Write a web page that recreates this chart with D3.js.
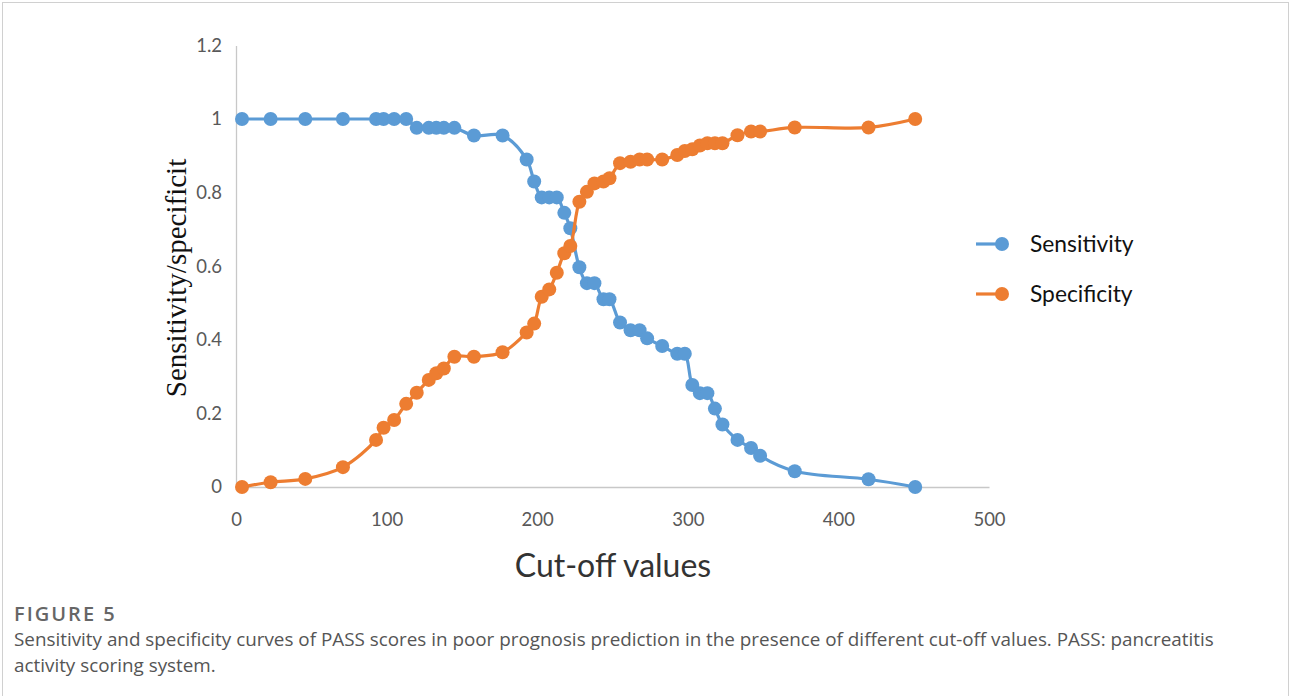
<!DOCTYPE html>
<html>
<head>
<meta charset="utf-8">
<script src="https://cdn.jsdelivr.net/npm/d3@7"></script>
<style>
  body { margin: 0; background: #fff; }
  svg { display: block; }
</style>
</head>
<body>
<div id="chart"></div>
<script>
// cut-off values shared by both curves
var cutoffs = [4, 23, 46, 71, 93, 98, 105, 113, 120, 128, 133, 138, 145, 158, 177,
  193, 198, 203, 208, 213, 218, 222, 228, 233, 238, 244, 248, 255, 262, 268, 273,
  283, 293, 298, 303, 308, 313, 318, 323, 333, 342, 348, 371, 420, 451]

var sensitivity = [1, 1, 1, 1, 1, 1, 1, 1, 0.976, 0.976, 0.976, 0.976, 0.976, 0.955, 0.955,
  0.89, 0.83, 0.787, 0.787, 0.787, 0.745, 0.703, 0.597, 0.554, 0.554, 0.51, 0.51, 0.447,
  0.426, 0.426, 0.404, 0.383, 0.362, 0.362, 0.277, 0.255, 0.255, 0.213, 0.17, 0.128,
  0.106, 0.085, 0.043, 0.021, 0]

var specificity = [0, 0.013, 0.022, 0.054, 0.128, 0.161, 0.182, 0.226, 0.256, 0.291, 0.309,
  0.322, 0.354, 0.354, 0.366, 0.42, 0.444, 0.517, 0.537, 0.582, 0.635, 0.655, 0.775, 0.802,
  0.825, 0.83, 0.839, 0.88, 0.884, 0.89, 0.89, 0.89, 0.902, 0.913, 0.918, 0.928, 0.934,
  0.934, 0.934, 0.956, 0.966, 0.966, 0.977, 0.977, 1]

var seriesNames = ["Sensitivity", "Specificity"]
var seriesColors = ["#5b9bd5", "#ed7d31"]

var xTicks = [0, 100, 200, 300, 400, 500]
var yTicks = [0, 0.2, 0.4, 0.6, 0.8, 1, 1.2]
var yTickLabels = ["0", "0.2", "0.4", "0.6", "0.8", "1", "1.2"]

var W = 1290, H = 696

var svg = d3.select("#chart").append("svg")
  .attr("width", W)
  .attr("height", H)

// figure frame
svg.append("rect")
  .attr("x", 2.5).attr("y", 2.5)
  .attr("width", 1286).attr("height", 710)
  .attr("fill", "none")
  .attr("stroke", "#d0d0d0")

var x = d3.scaleLinear().domain([0, 500]).range([236, 989])
var y = d3.scaleLinear().domain([0, 1.2]).range([487, 45.4])

// axes
svg.append("g")
  .attr("transform", "translate(236,0)")
  .call(d3.axisLeft(y).tickValues(yTicks)
    .tickFormat(function(d, i) { return yTickLabels[i] })
    .tickSize(0).tickPadding(14))
svg.append("g")
  .attr("transform", "translate(0,487)")
  .call(d3.axisBottom(x).tickValues(xTicks)
    .tickFormat(function(d) { return d })
    .tickSize(0).tickPadding(26))

svg.selectAll(".domain").attr("stroke", "#c8c8c8").attr("stroke-width", 1.3)
svg.selectAll(".tick text")
  .attr("fill", "#595959")
  .style("font-family", "Lato, sans-serif")
  .style("font-size", "18.5px")

// axis titles
svg.append("text")
  .attr("transform", "translate(186,278) rotate(-90)")
  .attr("text-anchor", "middle")
  .style("font-family", "'Liberation Serif', 'Times New Roman', serif")
  .style("font-size", "29px")
  .attr("fill", "#111")
  .text("Sensitivity/specificit")

svg.append("text")
  .attr("x", 613).attr("y", 577)
  .attr("text-anchor", "middle")
  .style("font-family", "Lato, sans-serif")
  .style("font-size", "32px")
  .attr("fill", "#333")
  .text("Cut-off values")

// series
var series = [sensitivity, specificity].map(function(vals, i) {
  return { name: seriesNames[i], color: seriesColors[i],
    points: cutoffs.map(function(c, j) { return [c, vals[j]] }) }
})

var line = d3.line()
  .x(function(d) { return x(d[0]) })
  .y(function(d) { return y(d[1]) })
  .curve(d3.curveCatmullRom.alpha(0.5))

series.forEach(function(s) {
  var g = svg.append("g")
  g.append("path")
    .attr("d", line(s.points))
    .attr("fill", "none")
    .attr("stroke", s.color)
    .attr("stroke-width", 3.2)
  g.selectAll("circle")
    .data(s.points)
    .enter()
    .append("circle")
      .attr("cx", function(d) { return x(d[0]) })
      .attr("cy", function(d) { return y(d[1]) })
      .attr("r", 7)
      .attr("fill", s.color)
})

// legend
var legend = svg.append("g")
  .selectAll("g")
  .data(series)
  .enter()
  .append("g")
    .attr("transform", function(d, i) { return "translate(976," + (244 + i * 50) + ")" })
legend.append("line")
  .attr("x1", 0).attr("x2", 26)
  .attr("stroke", function(d) { return d.color })
  .attr("stroke-width", 3.2)
legend.append("circle")
  .attr("cx", 26).attr("r", 7)
  .attr("fill", function(d) { return d.color })
legend.append("text")
  .attr("x", 54).attr("y", 8)
  .style("font-family", "Lato, sans-serif")
  .style("font-size", "22.8px")
  .attr("fill", "#111")
  .text(function(d) { return d.name })

// caption
svg.append("text")
  .attr("x", 14).attr("y", 621)
  .style("font-family", "'Open Sans', sans-serif")
  .style("font-size", "20px")
  .style("font-weight", "600")
  .style("letter-spacing", "2px")
  .attr("fill", "#666")
  .text("FIGURE 5")

var captionLines = [
  "Sensitivity and specificity curves of PASS scores in poor prognosis prediction in the presence of different cut-off values. PASS: pancreatitis",
  "activity scoring system."
]
svg.append("g").selectAll("text")
  .data(captionLines)
  .enter()
  .append("text")
    .attr("x", 14)
    .attr("y", function(d, i) { return 646 + i * 26 })
    .style("font-family", "'Open Sans', sans-serif")
    .style("font-size", "18.85px")
    .attr("fill", "#555")
    .text(function(d) { return d })
</script>
</body>
</html>
